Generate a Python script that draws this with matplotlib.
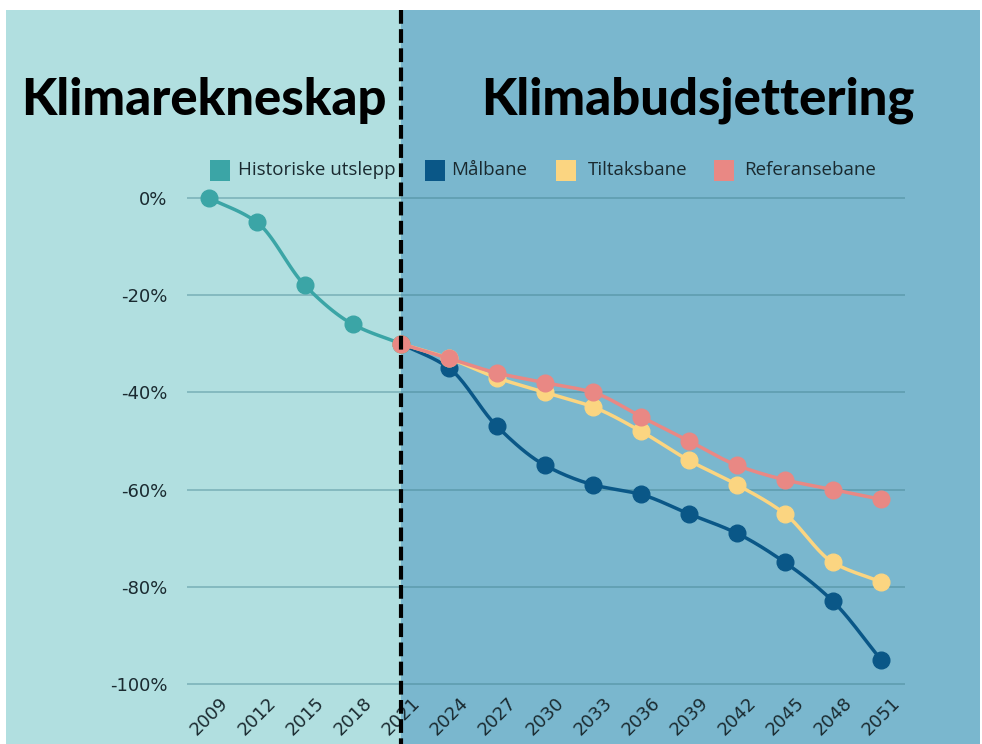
import numpy as np
import matplotlib
matplotlib.use("Agg")
import matplotlib.pyplot as plt
from matplotlib.patches import Rectangle
from matplotlib.lines import Line2D

years_hist = [2009, 2012, 2015, 2018, 2021]
hist = [0, -5, -18, -26, -30]
years_proj = [2021, 2024, 2027, 2030, 2033, 2036, 2039, 2042, 2045, 2048, 2051]
malbane = [-30, -35, -47, -55, -59, -61, -65, -69, -75, -83, -95]
tiltaksbane = [-30, -33, -37, -40, -43, -48, -54, -59, -65, -75, -79]
referansebane = [-30, -33, -36, -38, -40, -45, -50, -55, -58, -60, -62]
tick_years = list(range(2009, 2052, 3))
yticks = [0, -20, -40, -60, -80, -100]

series_names = ["Historiske utslepp", "Målbane", "Tiltaksbane", "Referansebane"]
colors = ["#3ba5a6", "#0a5787", "#fbd581", "#e98884"]


def smooth(x, y, n=20):
    # monotone cubic (Fritsch-Carlson) for drawing a smooth path only
    x = np.asarray(x, float); y = np.asarray(y, float)
    h = np.diff(x); d = np.diff(y) / h
    m = np.zeros_like(y)
    m[0] = d[0]; m[-1] = d[-1]
    for i in range(1, len(y) - 1):
        if d[i - 1] * d[i] <= 0:
            m[i] = 0
        else:
            w1 = 2 * h[i] + h[i - 1]; w2 = h[i] + 2 * h[i - 1]
            m[i] = (w1 + w2) / (w1 / d[i - 1] + w2 / d[i])
    xs, ys = [], []
    for i in range(len(x) - 1):
        t = np.linspace(0, 1, n, endpoint=(i == len(x) - 2))
        h00 = 2 * t**3 - 3 * t**2 + 1; h10 = t**3 - 2 * t**2 + t
        h01 = -2 * t**3 + 3 * t**2; h11 = t**3 - t**2
        xs.append(x[i] + t * h[i])
        ys.append(h00 * y[i] + h10 * h[i] * m[i] + h01 * y[i + 1] + h11 * h[i] * m[i + 1])
    return np.concatenate(xs), np.concatenate(ys)


W, H = 982, 744
fig = plt.figure(figsize=(W / 100, H / 100), dpi=100, facecolor="white")

def fx(px): return px / W
def fy(py): return 1 - py / H

fig.patches.append(Rectangle((fx(6), fy(744)), fx(401) - fx(6), fy(10) - fy(744),
                             transform=fig.transFigure, facecolor="#b1dfe0", edgecolor="none", zorder=-2))
fig.patches.append(Rectangle((fx(401), fy(744)), fx(980) - fx(401), fy(10) - fy(744),
                             transform=fig.transFigure, facecolor="#7ab7ce", edgecolor="none", zorder=-2))

ax_left, ax_right = 187, 905
ytop, ybot = 188.3, 693.7
ax = fig.add_axes([fx(ax_left), fy(ybot), fx(ax_right) - fx(ax_left), fy(ytop) - fy(ybot)])
ax.set_zorder(2)
ax.patch.set_visible(False)
ax.set_xlim(2007.625, 2052.5)
ax.set_ylim(-102, 2)
for s in ax.spines.values():
    s.set_visible(False)
ax.set_yticks(yticks)
ax.set_yticklabels([f"{v}%" for v in yticks])
ax.set_xticks(tick_years)
ax.set_xticklabels([str(y) for y in tick_years], rotation=45, ha="center", va="top")
ax.tick_params(length=0, colors="#1a2a30")
ax.tick_params(axis="y", pad=14)
ax.tick_params(axis="x", pad=0)
for lab in ax.get_xticklabels() + ax.get_yticklabels():
    lab.set_family(["Liberation Sans Narrow", "DejaVu Sans"])
    lab.set_fontsize(13)
ax.yaxis.grid(True, color="#3f7f8c", alpha=0.42, linewidth=1.3)
ax.set_axisbelow(True)

data = [(years_hist, hist), (years_proj, malbane), (years_proj, tiltaksbane), (years_proj, referansebane)]
for i, ((xs, ys), c) in enumerate(zip(data, colors)):
    sx, sy = smooth(xs, ys)
    ax.plot(sx, sy, color=c, linewidth=2.5, zorder=3 + i, solid_capstyle="round")
    ax.plot(xs, ys, linestyle="none", marker="o", markersize=12, color=c, zorder=3 + i)

fig.add_artist(Line2D([fx(401), fx(401)], [fy(10), fy(744)], transform=fig.transFigure,
                      color="black", linewidth=3, dashes=(3.3, 1.3), zorder=10))

title_font = ["Lato", "DejaVu Sans"]
fig.text(fx(204), fy(100), "Klimarekneskap", ha="center", va="center", fontsize=36.5,
         fontweight="black", family=title_font, color="black")
fig.text(fx(698), fy(100), "Klimabudsjettering", ha="center", va="center", fontsize=36.5,
         fontweight="black", family=title_font, color="black")

legend_sq = [210, 425, 556, 714]
legend_tx = [238, 451, 588, 744]
for sq, tx, name, c in zip(legend_sq, legend_tx, series_names, colors):
    fig.patches.append(Rectangle((fx(sq), fy(181)), fx(20), 21 / H, transform=fig.transFigure,
                                 facecolor=c, edgecolor="none", zorder=5))
    fig.text(fx(tx), fy(170), name, ha="left", va="center", fontsize=13.5,
             family=["Open Sans", "DejaVu Sans"], color="#1a2a30")

fig.savefig("out.png", dpi=100, facecolor="white")
